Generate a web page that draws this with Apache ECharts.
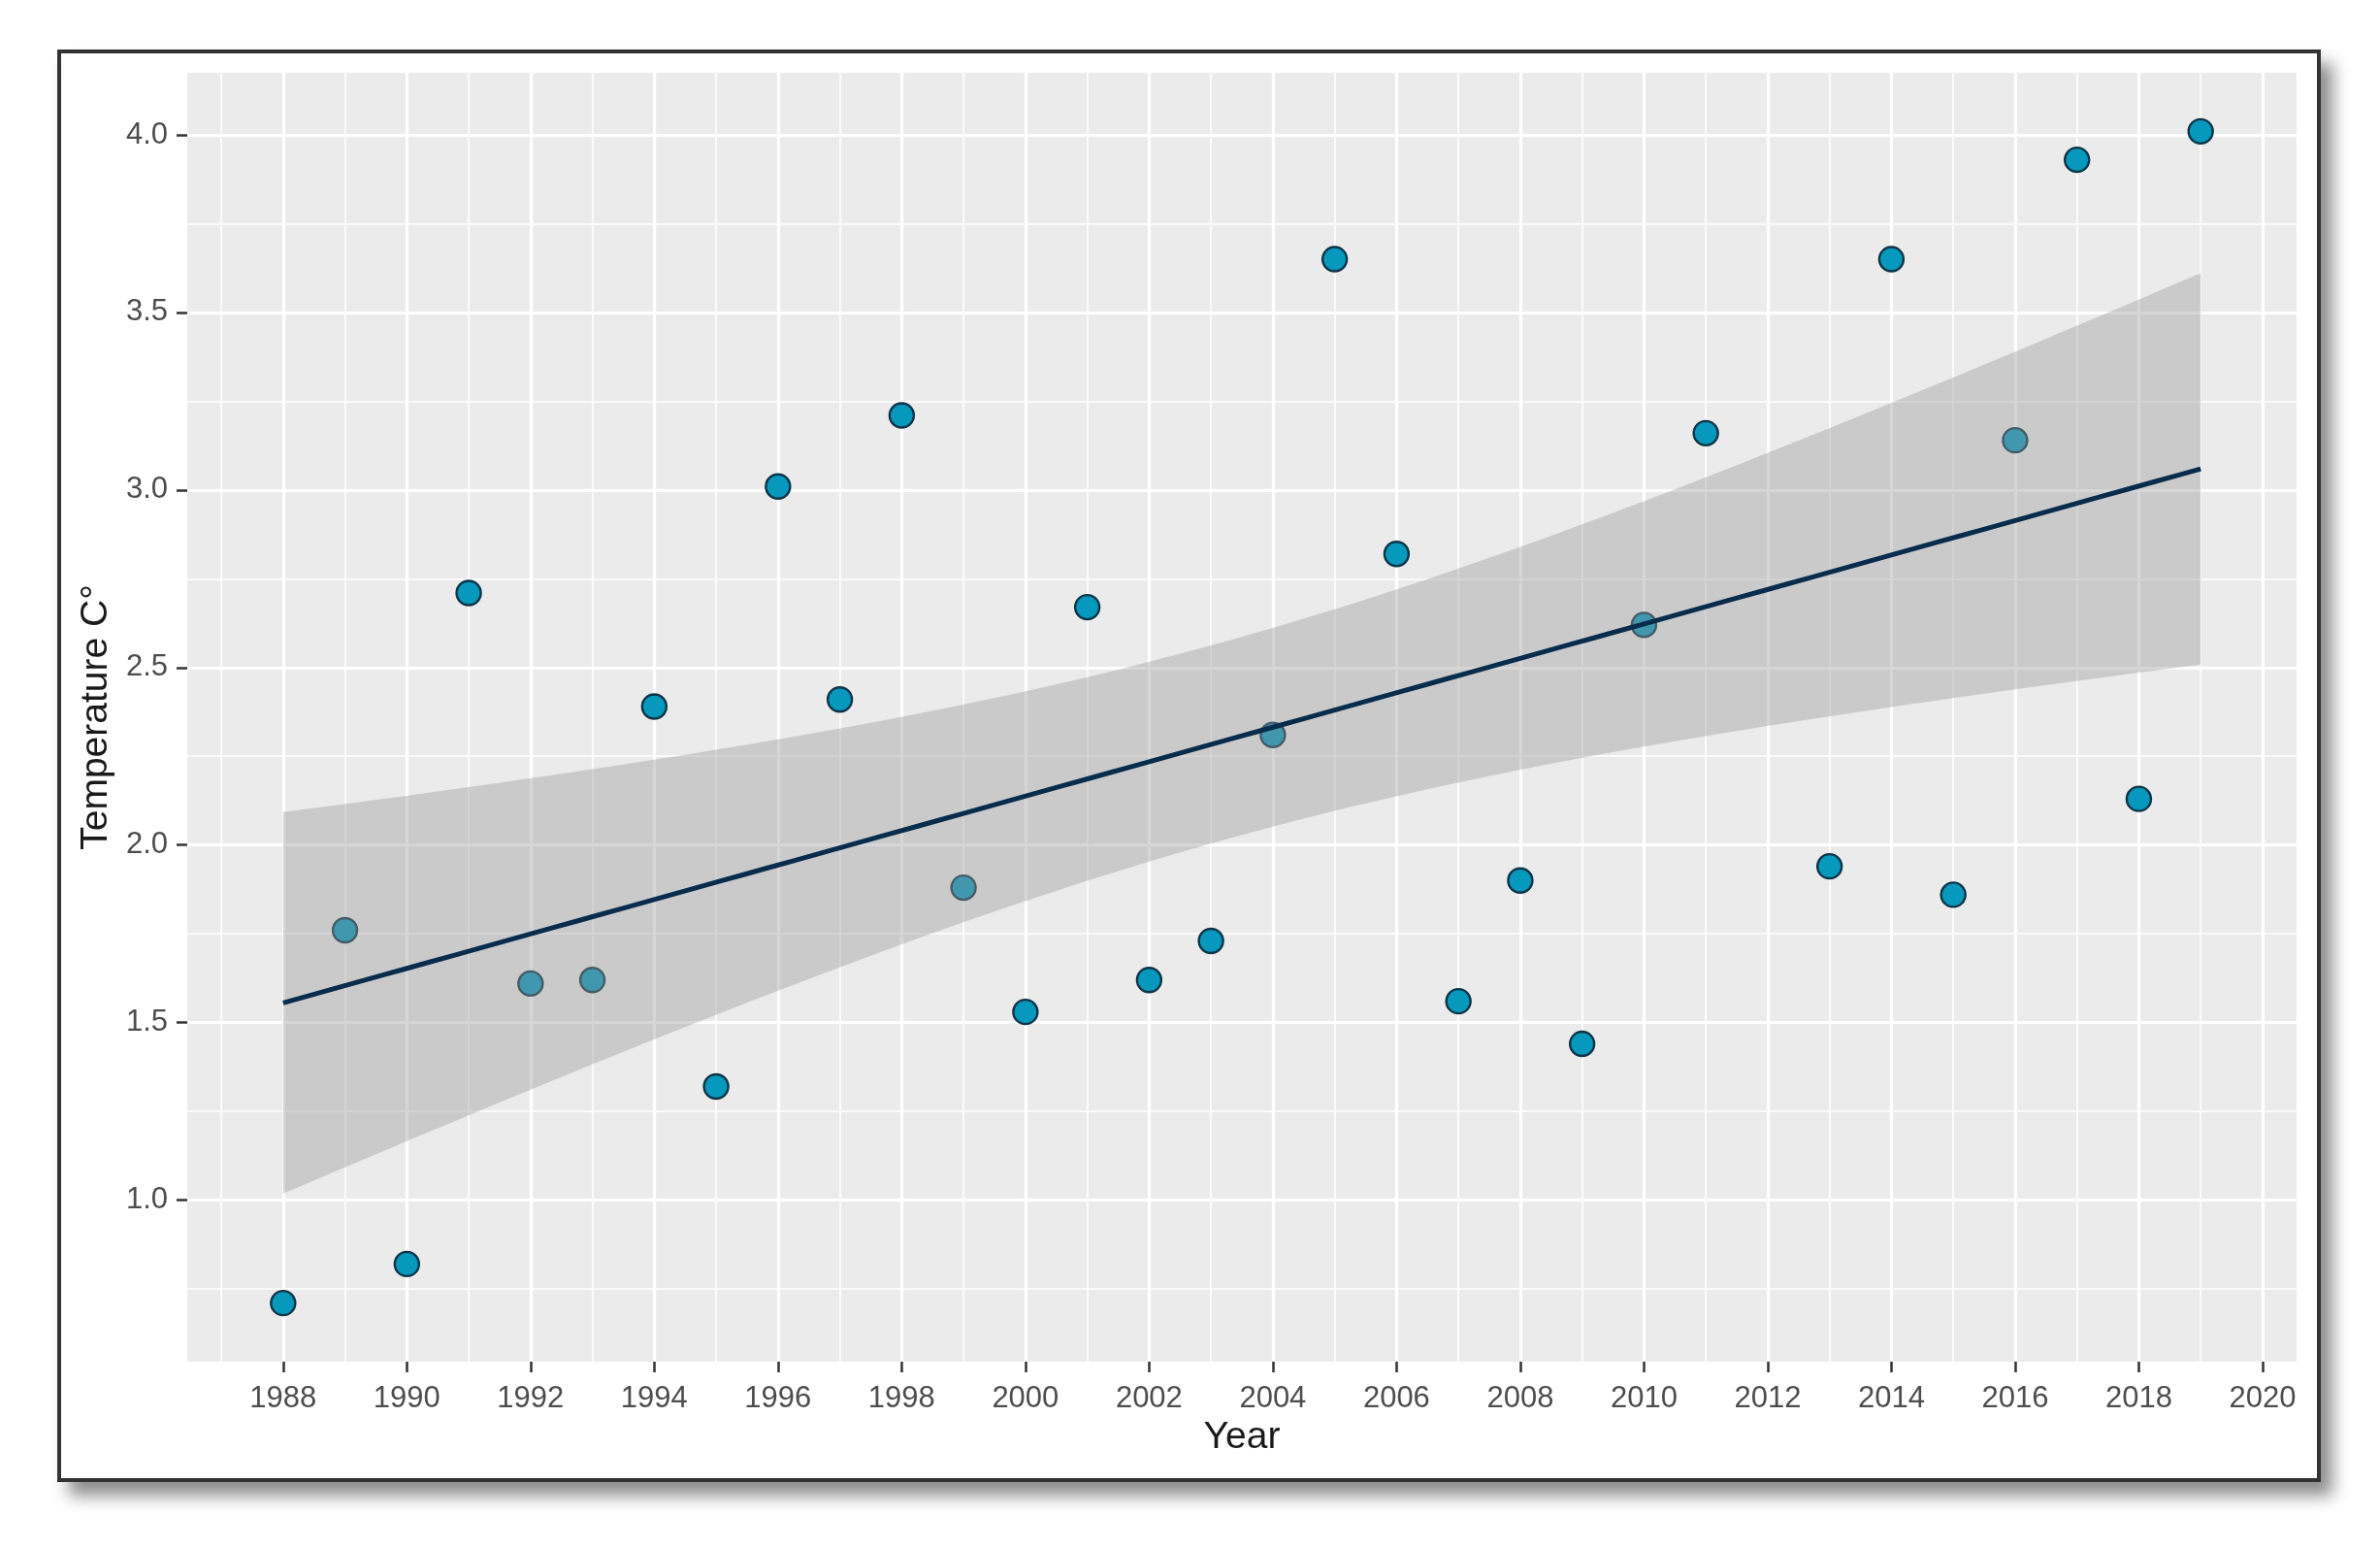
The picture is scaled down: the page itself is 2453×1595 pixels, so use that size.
<!DOCTYPE html>
<html>
<head>
<meta charset="utf-8">
<script src="https://cdn.jsdelivr.net/npm/echarts@6/dist/echarts.min.js"></script>
<style>
  html, body { margin: 0; padding: 0; background: #ffffff; }
  #frame { position: absolute; left: 59px; top: 51px; width: 2325px; height: 1468px;
           border: 4px solid #333; background: #fff;
           box-shadow: 12px 14px 16px rgba(0,0,0,0.45); }
  #chart { position: absolute; left: 0; top: 0; width: 2453px; height: 1595px; }
</style>
</head>
<body>
<div id="frame"></div>
<div id="chart"></div>
<script>
// ---- data ----
const years = [1988,1989,1990,1991,1992,1993,1994,1995,1996,1997,1998,1999,2000,2001,2002,2003,2004,2005,2006,2007,2008,2009,2010,2011,2013,2014,2015,2016,2017,2018,2019];
const temps = [0.71,1.76,0.82,2.71,1.61,1.62,2.39,1.32,3.01,2.41,3.21,1.88,1.53,2.67,1.62,1.73,2.31,3.65,2.82,1.56,1.90,1.44,2.62,3.16,1.94,3.65,1.86,3.14,3.93,2.13,4.01];

const xTicks = [1988,1990,1992,1994,1996,1998,2000,2002,2004,2006,2008,2010,2012,2014,2016,2018,2020];
const xMinor = [1987,1989,1991,1993,1995,1997,1999,2001,2003,2005,2007,2009,2011,2013,2015,2017,2019];
const yTicks = [1.0,1.5,2.0,2.5,3.0,3.5,4.0];
const yMinor = [0.75,1.25,1.75,2.25,2.75,3.25,3.75];

const xTitle = 'Year';
const yTitle = 'Temperature C°';

// ---- linear fit with 95% confidence band (as geom_smooth(method = "lm")) ----
const n = years.length;
const mx = years.reduce((s, v) => s + v, 0) / n;
const my = temps.reduce((s, v) => s + v, 0) / n;
let sxx = 0, sxy = 0;
for (let i = 0; i < n; i++) { sxx += (years[i] - mx) ** 2; sxy += (years[i] - mx) * (temps[i] - my); }
const slope = sxy / sxx, icpt = my - slope * mx;
let sse = 0;
for (let i = 0; i < n; i++) sse += (temps[i] - icpt - slope * years[i]) ** 2;
const sres = Math.sqrt(sse / (n - 2));
const tq = 2.0452; // qt(0.975, 29)
const fitX = [];
const x0 = Math.min(...years), x1 = Math.max(...years);
for (let k = 0; k < 80; k++) fitX.push(x0 + (x1 - x0) * k / 79);
const fitLine = fitX.map(x => [x, icpt + slope * x]);
const upper = fitX.map(x => [x, icpt + slope * x + tq * sres * Math.sqrt(1 / n + (x - mx) ** 2 / sxx)]);
const lower = fitX.map(x => [x, icpt + slope * x - tq * sres * Math.sqrt(1 / n + (x - mx) ** 2 / sxx)]);

const FONT = 'Liberation Sans, Arial, sans-serif';

const gridLines = [];
xTicks.forEach(v => gridLines.push({ xAxis: v, lineStyle: { width: 3.2 } }));
xMinor.forEach(v => gridLines.push({ xAxis: v, lineStyle: { width: 1.6 } }));
yTicks.forEach(v => gridLines.push({ yAxis: v, lineStyle: { width: 3.2 } }));
yMinor.forEach(v => gridLines.push({ yAxis: v, lineStyle: { width: 1.6 } }));

const chart = echarts.init(document.getElementById('chart'), null, { renderer: 'canvas' });
chart.setOption({
  animation: false,
  backgroundColor: 'transparent',
  grid: { left: 193, top: 75, right: 86, bottom: 192, show: true, backgroundColor: '#EBEBEB', borderWidth: 0 },
  xAxis: {
    type: 'value', min: 1986.45, max: 2020.55,
    name: xTitle, nameLocation: 'middle', nameGap: 58,
    nameTextStyle: { fontFamily: FONT, fontSize: 39, color: '#1a1a1a' },
    axisLine: { show: false },
    splitLine: { show: false },
    axisTick: { show: true, customValues: xTicks, length: 11, lineStyle: { color: '#333', width: 2.5 } },
    axisLabel: { customValues: xTicks, fontFamily: FONT, fontSize: 31, color: '#4d4d4d', margin: 23,
                 formatter: v => String(v) }
  },
  yAxis: {
    type: 'value', min: 0.545, max: 4.175,
    name: yTitle, nameLocation: 'middle', nameGap: 66, nameRotate: 90,
    nameTextStyle: { fontFamily: FONT, fontSize: 39, color: '#1a1a1a' },
    axisLine: { show: false },
    splitLine: { show: false },
    axisTick: { show: true, customValues: yTicks, length: 11, lineStyle: { color: '#333', width: 2.5 } },
    axisLabel: { customValues: yTicks, fontFamily: FONT, fontSize: 31, color: '#4d4d4d', margin: 20,
                 formatter: v => Number(v).toFixed(1) }
  },
  series: [
    {
      type: 'line', data: [], silent: true, z: 1,
      markLine: { silent: true, symbol: ['none', 'none'], z: 1, animation: false,
                  label: { show: false }, lineStyle: { color: '#ffffff', type: 'solid' },
                  emphasis: { disabled: true }, data: gridLines }
    },
    {
      type: 'scatter', z: 5, data: years.map((y, i) => [y, temps[i]]),
      symbol: 'circle', symbolSize: 25,
      itemStyle: { color: '#0798BD', borderColor: '#0d3447', borderWidth: 2.4, opacity: 1 }
    },
    {
      type: 'custom', z: 6, silent: true, data: [[x0, my]],
      renderItem: (params, api) => {
        const pts = upper.map(p => api.coord(p)).concat(lower.slice().reverse().map(p => api.coord(p)));
        return { type: 'polygon', shape: { points: pts }, style: { fill: 'rgba(153,153,153,0.4)' } };
      }
    },
    {
      type: 'line', z: 7, data: fitLine, showSymbol: false, silent: true,
      lineStyle: { color: '#082D4C', width: 5 }
    }
  ]
});
</script>
</body>
</html>
